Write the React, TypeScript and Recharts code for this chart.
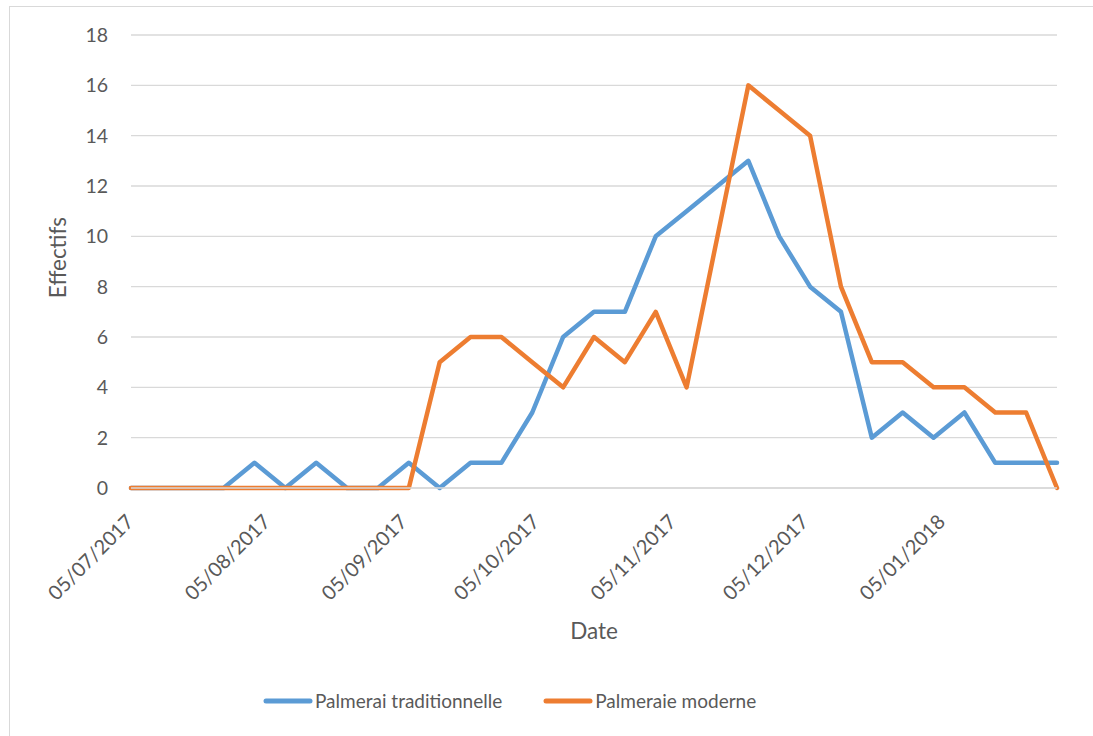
import { LineChart, Line, XAxis, YAxis, CartesianGrid, Legend, Label } from 'recharts'

const dates = [
  '05/07/2017', '12/07/2017', '19/07/2017', '26/07/2017', '02/08/2017', '09/08/2017',
  '16/08/2017', '23/08/2017', '30/08/2017', '06/09/2017', '13/09/2017', '20/09/2017',
  '27/09/2017', '04/10/2017', '11/10/2017', '18/10/2017', '25/10/2017', '01/11/2017',
  '08/11/2017', '15/11/2017', '22/11/2017', '29/11/2017', '06/12/2017', '13/12/2017',
  '20/12/2017', '27/12/2017', '03/01/2018', '10/01/2018', '17/01/2018', '24/01/2018',
  '31/01/2018',
]

const traditionnelle = [
  0, 0, 0, 0, 1, 0, 1, 0, 0, 1, 0, 1, 1, 3, 6, 7, 7, 10, 11, 12, 13, 10, 8, 7, 2, 3, 2, 3, 1, 1, 1,
]

const moderne = [
  0, 0, 0, 0, 0, 0, 0, 0, 0, 0, 5, 6, 6, 5, 4, 6, 5, 7, 4, 10, 16, 15, 14, 8, 5, 5, 4, 4, 3, 3, 0,
]

const monthTicks = ['05/07/2017', '05/08/2017', '05/09/2017', '05/10/2017', '05/11/2017', '05/12/2017', '05/01/2018']
const yTicks = [0, 2, 4, 6, 8, 10, 12, 14, 16, 18]

const FONT = 'Lato, "Noto Sans", sans-serif'
const TEXT = '#595959'
const BLUE = '#5B9BD5'
const ORANGE = '#ED7D31'

const toTime = (s: string) => {
  const [d, m, y] = s.split('/').map(Number)
  return Date.UTC(y, m - 1, d)
}

const fmt = (t: number) => {
  const d = new Date(t)
  const pad = (n: number) => String(n).padStart(2, '0')
  return `${pad(d.getUTCDate())}/${pad(d.getUTCMonth() + 1)}/${d.getUTCFullYear()}`
}

const chartData = dates.map((s, i) => ({
  t: toTime(s),
  trad: traditionnelle[i],
  mod: moderne[i],
}))

function DateTick({ x, y, payload }: any) {
  const ax = x + 4
  const ay = y + 35
  return (
    <text
      x={ax}
      y={ay}
      transform={`rotate(-45, ${ax}, ${ay})`}
      textAnchor="end"
      fill={TEXT}
      fontSize={20}
      fontFamily={FONT}
    >
      {fmt(payload.value)}
    </text>
  )
}

function LegendRow({ payload }: any) {
  return (
    <div style={{ display: 'flex', alignItems: 'center', fontFamily: FONT, fontSize: 19, color: TEXT }}>
      {(payload || []).map((item: any, i: number) => (
        <div key={i} style={{ display: 'flex', alignItems: 'center', marginRight: i === 0 ? 41 : 0 }}>
          <svg width={50} height={10} style={{ marginRight: 2 }}>
            <line x1={3} y1={5} x2={47} y2={5} stroke={item.color} strokeWidth={5} strokeLinecap="round" />
          </svg>
          <span>{item.value}</span>
        </div>
      ))}
    </div>
  )
}

function YTitle({ viewBox }: any) {
  const cy = viewBox.y + viewBox.height / 2 - 4
  return (
    <text
      x={57}
      y={cy}
      transform={`rotate(-90, 57, ${cy})`}
      textAnchor="middle"
      dominantBaseline="central"
      fill={TEXT}
      fontSize={22.5}
      fontFamily={FONT}
    >
      Effectifs
    </text>
  )
}

export default function App() {
  return (
    <div style={{ position: 'absolute', left: 0, top: 0, width: 1093, height: 736, overflow: 'hidden', background: '#fff' }}>
      <div
        style={{
          position: 'absolute',
          left: 9,
          top: 6,
          width: 1110,
          height: 760,
          border: '1.5px solid #d9d9d9',
        }}
      />
      <div style={{ position: 'absolute', left: 0, top: 0 }}>
        <LineChart width={1093} height={736} data={chartData} margin={{ top: 35, right: 36, bottom: 0, left: 0 }}>
          <CartesianGrid vertical={false} stroke="#d9d9d9" strokeWidth={1.3} />
          <XAxis
            dataKey="t"
            type="number"
            scale="time"
            domain={['dataMin', 'dataMax']}
            ticks={monthTicks.map(toTime)}
            interval={0}
            height={248}
            tickSize={0}
            tickMargin={0}
            tickLine={false}
            axisLine={{ stroke: '#d9d9d9', strokeWidth: 1.3 }}
            tick={<DateTick />}
          >
            <Label
              value="Date"
              position="insideBottom"
              offset={97}
              fill={TEXT}
              fontSize={22.5}
              fontFamily={FONT}
            />
          </XAxis>
          <YAxis
            domain={[0, 18]}
            ticks={yTicks}
            width={131}
            tickSize={0}
            tickMargin={23}
            tickLine={false}
            axisLine={false}
            tick={{ fill: TEXT, fontSize: 19.5, fontFamily: FONT }}
          >
            <Label content={<YTitle />} />
          </YAxis>
          <Legend
            layout="horizontal"
            verticalAlign="middle"
            align="center"
            wrapperStyle={{ top: 689, left: 263, width: 620, height: 26 }}
            content={<LegendRow />}
          />
          <Line
            type="linear"
            dataKey="trad"
            name="Palmerai traditionnelle"
            stroke={BLUE}
            strokeWidth={4.5}
            strokeLinejoin="round"
            strokeLinecap="round"
            dot={false}
            activeDot={false}
            isAnimationActive={false}
          />
          <Line
            type="linear"
            dataKey="mod"
            name="Palmeraie moderne"
            stroke={ORANGE}
            strokeWidth={4.5}
            strokeLinejoin="round"
            strokeLinecap="round"
            dot={false}
            activeDot={false}
            isAnimationActive={false}
          />
        </LineChart>
      </div>
    </div>
  )
}
